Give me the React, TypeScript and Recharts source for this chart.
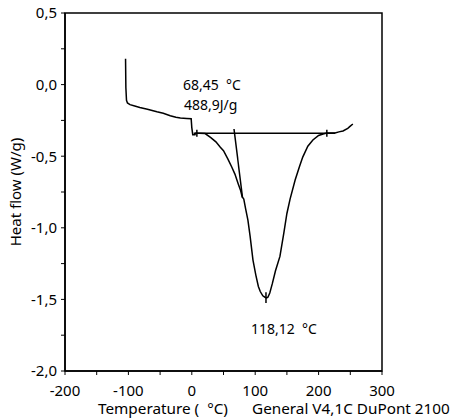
import { LineChart, Line, XAxis, YAxis, ReferenceArea } from 'recharts';

// DSC trace
const tempMain = [
  -104.5, -104, -103, -101.5, -97.5, -90, -82, -70, -55, -45, -34, -25, -18, -8, -1,
  0, 1.5, 5, 6, 12, 21, 30, 38, 45, 50, 57, 63, 68, 73, 77, 79.5,
  82, 85, 88.5, 92, 96.5, 101, 105, 108, 112, 115.5, 118, 120, 123, 127, 132, 139,
  145, 150, 155, 163, 170, 175, 183, 191, 200, 207, 213, 220, 226, 232, 238.5, 246, 250, 254,
];
const heatMain = [
  0.18, -0.02, -0.11, -0.128, -0.14, -0.15, -0.16, -0.172, -0.19, -0.2, -0.218, -0.228, -0.233, -0.236, -0.238,
  -0.3, -0.35, -0.35, -0.34, -0.34, -0.342, -0.37, -0.4, -0.438, -0.462, -0.52, -0.575, -0.625, -0.69, -0.74, -0.785,
  -0.8, -0.87, -0.946, -1.06, -1.225, -1.33, -1.41, -1.445, -1.475, -1.485, -1.49, -1.485, -1.455, -1.39, -1.3, -1.2,
  -1.04, -0.9, -0.8, -0.666, -0.57, -0.506, -0.43, -0.387, -0.355, -0.345, -0.338, -0.338, -0.338, -0.33, -0.324, -0.305, -0.29, -0.275,
];

// integration baseline and onset tangent
const baseTemp = [3, 226];
const baseHeat = [-0.34, -0.34];
const tangentTemp = [66.6, 80];
const tangentHeat = [-0.31, -0.79];

// small cross marks on the trace
const onsetMarkTemp = [8, 8];
const onsetMarkHeat = [-0.315, -0.365];
const endMarkTemp = [213, 213];
const endMarkHeat = [-0.315, -0.365];
const peakMarkTemp = [117, 117];
const peakMarkHeat = [-1.45, -1.525];

const xTicks = [-200, -150, -100, -50, 0, 50, 100, 150, 200, 250, 300];
const yTicks = [0.5, 0.25, 0, -0.25, -0.5, -0.75, -1, -1.25, -1.5, -1.75, -2];

const toPoints = (xs: number[], ys: number[]) => xs.map((x, i) => ({ x, y: ys[i] }));

const FONT = '"Noto Sans", sans-serif';

const fmtX = (v: number) => (v % 100 === 0 ? String(v) : '');
const fmtY = (v: number) => {
  if (Math.abs(v * 2 - Math.round(v * 2)) > 1e-6) return '';
  if (v === 0) return '0,0';
  return v.toFixed(1).replace('.', ',');
};

const textStyle: React.CSSProperties = {
  position: 'absolute',
  fontFamily: FONT,
  fontSize: 14,
  color: '#000',
  whiteSpace: 'pre',
  lineHeight: '16px',
};

export default function App() {
  const mainData = toPoints(tempMain, heatMain);
  const lineProps = {
    type: 'linear' as const,
    dataKey: 'y',
    stroke: '#000',
    strokeWidth: 1.5,
    dot: false,
    isAnimationActive: false,
  };

  return (
    <div style={{ position: 'absolute', left: 0, top: 0, width: 456, height: 420, background: '#fff' }}>
      <LineChart width={456} height={420} margin={{ top: 13, right: 74, bottom: 19, left: 0 }}>
        <XAxis
          type="number"
          dataKey="x"
          domain={[-200, 300]}
          ticks={xTicks}
          interval={0}
          tickFormatter={fmtX}
          height={30}
          tickSize={4}
          tickMargin={10}
          axisLine={{ stroke: '#000', strokeWidth: 1.5 }}
          tickLine={{ stroke: '#000' }}
          tick={{ fill: '#000', fontSize: 15, fontFamily: FONT }}
          allowDataOverflow
        />
        <YAxis
          type="number"
          domain={[-2, 0.5]}
          ticks={yTicks}
          interval={0}
          tickFormatter={fmtY}
          width={65}
          tickSize={4}
          tickMargin={4}
          axisLine={{ stroke: '#000', strokeWidth: 1.5 }}
          tickLine={{ stroke: '#000' }}
          tick={{ fill: '#000', fontSize: 15, fontFamily: FONT }}
          allowDataOverflow
        />
        <ReferenceArea x1={-200} x2={300} y1={-2} y2={0.5} fill="none" stroke="#000" strokeWidth={1.5} />
        <Line {...lineProps} data={mainData} />
        <Line {...lineProps} data={toPoints(baseTemp, baseHeat)} />
        <Line {...lineProps} data={toPoints(tangentTemp, tangentHeat)} />
        <Line {...lineProps} data={toPoints(onsetMarkTemp, onsetMarkHeat)} />
        <Line {...lineProps} data={toPoints(endMarkTemp, endMarkHeat)} />
        <Line {...lineProps} data={toPoints(peakMarkTemp, peakMarkHeat)} />
      </LineChart>

      <div style={{ ...textStyle, left: 183, top: 77 }}>{'68,45  °C'}</div>
      <div style={{ ...textStyle, left: 184, top: 97 }}>{'488,9J/g'}</div>
      <div style={{ ...textStyle, left: 251, top: 321 }}>{'118,12  °C'}</div>

      <div style={{ ...textStyle, fontSize: 15.3, lineHeight: '17px', left: 98, top: 400 }}>{'Temperature (  °C)'}</div>
      <div style={{ ...textStyle, fontSize: 15.3, lineHeight: '17px', left: 252, top: 400 }}>{'General V4,1C DuPont 2100'}</div>
      <div
        style={{
          ...textStyle,
          fontSize: 15,
          left: 15,
          top: 192,
          transform: 'translate(-50%, -50%) rotate(-90deg)',
        }}
      >
        {'Heat flow (W/g)'}
      </div>
    </div>
  );
}
